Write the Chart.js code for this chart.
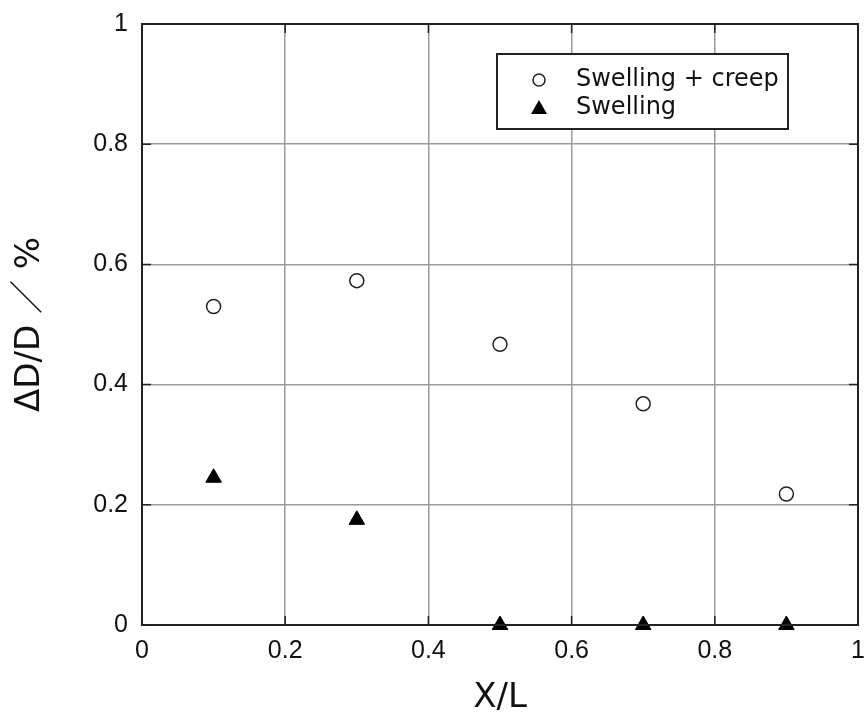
<!DOCTYPE html>
<html>
<head>
<meta charset="utf-8">
<script src="https://cdn.jsdelivr.net/npm/chart.js@4/dist/chart.umd.min.js"></script>
<style>
  html, body { margin: 0; padding: 0; background: #fff; }
  #wrap { width: 868px; height: 713px; }
</style>
</head>
<body>
<div id="wrap"><canvas id="chart" width="868" height="713"></canvas></div>
<script>
// data
const xPositions = [0.1, 0.3, 0.5, 0.7, 0.9];
const swellingCreep = [0.53, 0.573, 0.467, 0.368, 0.218];
const swelling = [0.245, 0.175, 0, 0, 0];
const seriesLabels = ['Swelling + creep', 'Swelling'];
const tickValues = [0, 0.2, 0.4, 0.6, 0.8, 1];

const FONT = '"Liberation Sans", "Noto Sans CJK JP", Arial, sans-serif';
const WIDE = '"DejaVu Sans", "Noto Sans CJK JP", sans-serif';

function toPoints(ys) {
    return xPositions.map((x, i) => ({ x: x, y: ys[i] }));
}

// black frame round the plot and small inward ticks
const framePlugin = {
    id: 'frame',
    afterDatasetsDraw(chart) {
        const { ctx, chartArea: a, scales } = chart;
        ctx.save();
        ctx.strokeStyle = '#222';
        ctx.lineWidth = 2;
        ctx.strokeRect(a.left, a.top, a.right - a.left, a.bottom - a.top);
        ctx.lineWidth = 1.5;
        ctx.beginPath();
        tickValues.forEach(v => {
            const px = scales.x.getPixelForValue(v);
            ctx.moveTo(px, a.bottom); ctx.lineTo(px, a.bottom - 9);
            ctx.moveTo(px, a.top); ctx.lineTo(px, a.top + 9);
            const py = scales.y.getPixelForValue(v);
            ctx.moveTo(a.left, py); ctx.lineTo(a.left + 9, py);
            ctx.moveTo(a.right, py); ctx.lineTo(a.right - 9, py);
        });
        ctx.stroke();
        ctx.restore();
    }
};

// legend box inside the plot, top right
const boxLegend = {
    id: 'boxLegend',
    afterDraw(chart) {
        const { ctx, chartArea: a } = chart;
        const left = a.left + 355, top = a.top + 30, w = 291, h = 75;
        ctx.save();
        ctx.fillStyle = '#fff';
        ctx.fillRect(left, top, w, h);
        ctx.strokeStyle = '#222';
        ctx.lineWidth = 2;
        ctx.strokeRect(left, top, w, h);

        const sx = left + 42;
        // circle
        ctx.beginPath();
        ctx.lineWidth = 1.5;
        ctx.arc(sx, top + 26, 6, 0, Math.PI * 2);
        ctx.fillStyle = '#fff';
        ctx.fill();
        ctx.stroke();
        // triangle
        ctx.beginPath();
        ctx.moveTo(sx, top + 46);
        ctx.lineTo(sx + 8, top + 60);
        ctx.lineTo(sx - 8, top + 60);
        ctx.closePath();
        ctx.fillStyle = '#000';
        ctx.fill();

        ctx.fillStyle = '#111';
        ctx.font = '24px ' + WIDE;
        ctx.textBaseline = 'middle';
        ctx.textAlign = 'left';
        ctx.fillText(seriesLabels[0], left + 79, top + 26);
        ctx.fillText(seriesLabels[1], left + 79, top + 54);
        ctx.restore();
    }
};

new Chart(document.getElementById('chart'), {
    type: 'scatter',
    data: {
        datasets: [{
            label: seriesLabels[0],
            data: toPoints(swellingCreep),
            pointStyle: 'circle',
            pointRadius: 7,
            pointBackgroundColor: '#fff',
            pointBorderColor: '#222',
            pointBorderWidth: 1.5,
            clip: false
        }, {
            label: seriesLabels[1],
            data: toPoints(swelling),
            pointStyle: 'triangle',
            pointRadius: 9,
            pointBackgroundColor: '#000',
            pointBorderColor: '#000',
            pointBorderWidth: 1,
            clip: false
        }]
    },
    options: {
        responsive: false,
        animation: false,
        layout: { padding: { left: 0, right: 1, top: 24, bottom: 0 } },
        plugins: {
            legend: { display: false },
            tooltip: { enabled: false }
        },
        scales: {
            x: {
                type: 'linear',
                min: 0,
                max: 1,
                afterBuildTicks: scale => { scale.ticks = tickValues.map(v => ({ value: v })); },
                afterFit: scale => {
                    scale.height = 88;
                    scale.paddingLeft = 0;
                    scale.paddingRight = 0;
                },
                grid: { color: '#9a9a9a', lineWidth: 1.5, drawTicks: false },
                border: { color: '#222', width: 2 },
                ticks: {
                    padding: 11,
                    color: '#111',
                    font: { size: 25, family: FONT },
                    callback: v => String(+v.toFixed(1))
                },
                title: {
                    display: true,
                    text: 'X/L',
                    color: '#111',
                    font: { size: 34, family: WIDE },
                    padding: { top: 0, bottom: -6 }
                }
            },
            y: {
                type: 'linear',
                min: 0,
                max: 1,
                afterBuildTicks: scale => { scale.ticks = tickValues.map(v => ({ value: v })); },
                afterFit: scale => {
                    scale.width = 142;
                    scale.paddingTop = 0;
                    scale.paddingBottom = 0;
                },
                grid: { color: '#9a9a9a', lineWidth: 1.5, drawTicks: false },
                border: { color: '#222', width: 2 },
                ticks: {
                    padding: 14,
                    color: '#111',
                    font: { size: 25, family: FONT },
                    callback: v => String(+v.toFixed(1))
                },
                title: {
                    display: true,
                    text: 'ΔD/D ／ %',
                    color: '#111',
                    font: { size: 34, family: WIDE },
                    padding: { top: 10, bottom: 0 }
                }
            }
        }
    },
    plugins: [framePlugin, boxLegend]
});
</script>
</body>
</html>
